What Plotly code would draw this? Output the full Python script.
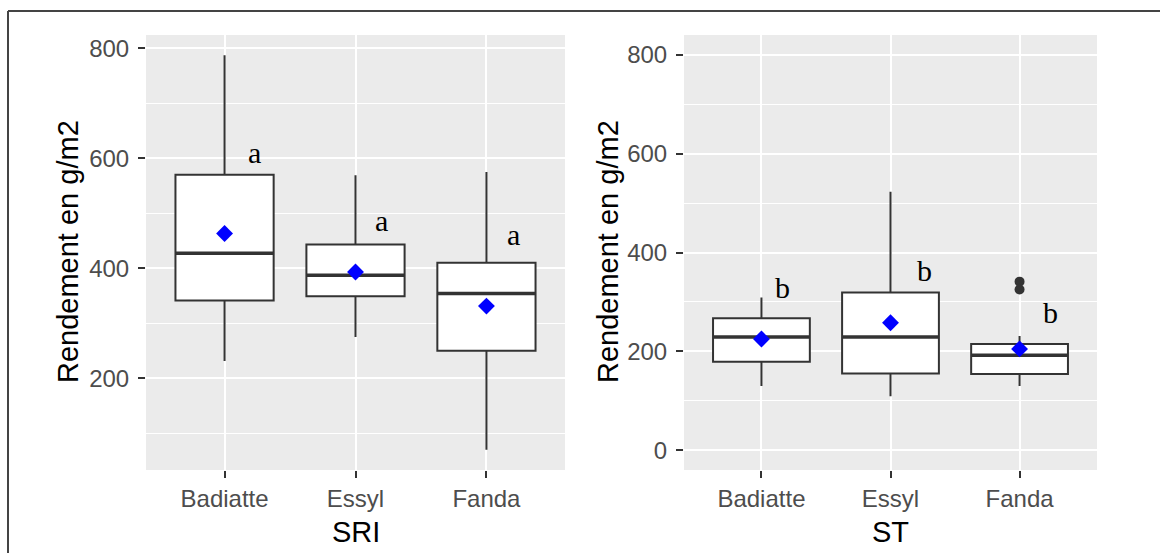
import plotly.graph_objects as go

# ---------------- data ----------------
categories = ["Badiatte", "Essyl", "Fanda"]

# SRI panel (g/m2)
sri_q1 = [341, 349, 250]
sri_median = [427, 387, 354]
sri_q3 = [570, 443, 410]
sri_lower = [231, 275, 70]
sri_upper = [787, 569, 575]
sri_mean = [463, 393, 331]
sri_letters = ["a", "a", "a"]
sri_letter_x = [1.23, 2.20, 3.21]
sri_letter_y = [605, 482, 456]

# ST panel (g/m2)
st_q1 = [179, 155, 154]
st_median = [229, 229, 192]
st_q3 = [267, 319, 215]
st_lower = [130, 109, 130]
st_upper = [309, 523, 231]
st_mean = [225, 258, 205]
st_outlier_cat = [3, 3]
st_outlier_val = [341, 325]
st_letters = ["b", "b", "b"]
st_letter_x = [1.16, 2.26, 3.24]
st_letter_y = [323, 358, 273]

panel_titles = ["SRI", "ST"]
y_title = "Rendement en g/m2"

# ---------------- style ----------------
W, H = 1160, 553
BOX_W = 0.75
DARK = "#333333"
SANS = "Liberation Sans, Arial, sans-serif"
SERIF = "Liberation Serif, Times New Roman, serif"

xpos = list(range(1, len(categories) + 1))

fig = go.Figure()


def add_panel(xa, ya, q1, med, q3, lo, up, mean):
    fig.add_trace(go.Box(
        x=xpos, q1=q1, median=med, q3=q3, lowerfence=lo, upperfence=up,
        width=BOX_W, fillcolor="white", line=dict(color=DARK, width=2),
        whiskerwidth=0, boxpoints=False, xaxis=xa, yaxis=ya,
        showlegend=False, hoverinfo="skip"))
    # thicker median line (ggplot style)
    mx, my = [], []
    for xi, m in zip(xpos, med):
        mx += [xi - BOX_W / 2, xi + BOX_W / 2, None]
        my += [m, m, None]
    fig.add_trace(go.Scatter(x=mx, y=my, mode="lines",
                             line=dict(color=DARK, width=3.5),
                             xaxis=xa, yaxis=ya, showlegend=False,
                             hoverinfo="skip"))
    fig.add_trace(go.Scatter(x=xpos, y=mean, mode="markers",
                             marker=dict(symbol="diamond", size=13,
                                         color="#0000FF"),
                             xaxis=xa, yaxis=ya, showlegend=False,
                             hoverinfo="skip"))


add_panel("x", "y", sri_q1, sri_median, sri_q3, sri_lower, sri_upper, sri_mean)
add_panel("x2", "y2", st_q1, st_median, st_q3, st_lower, st_upper, st_mean)

fig.add_trace(go.Scatter(x=st_outlier_cat, y=st_outlier_val, mode="markers",
                         marker=dict(symbol="circle", size=10, color=DARK),
                         xaxis="x2", yaxis="y2", showlegend=False,
                         hoverinfo="skip"))

# letters
for xs, ys, ts, xr, yr in [(sri_letter_x, sri_letter_y, sri_letters, "x", "y"),
                           (st_letter_x, st_letter_y, st_letters, "x2", "y2")]:
    for xv, yv, t in zip(xs, ys, ts):
        fig.add_annotation(x=xv, y=yv, xref=xr, yref=yr, text=t,
                           showarrow=False, xanchor="center",
                           yanchor="middle",
                           font=dict(family=SERIF, size=30, color="black"),
                           yshift=3)


# axis titles
def px_x(p):
    return p / W


def px_y(p):
    return 1 - p / H


for xp, title in [(356, panel_titles[0]), (890, panel_titles[1])]:
    fig.add_annotation(x=px_x(xp), y=px_y(532), xref="paper", yref="paper",
                       text=title, showarrow=False, xanchor="center",
                       yanchor="middle",
                       font=dict(family=SANS, size=29, color="black"))
for xp in [68, 608]:
    fig.add_annotation(x=px_x(xp), y=px_y(252), xref="paper", yref="paper",
                       text=y_title, showarrow=False, textangle=-90,
                       xanchor="center", yanchor="middle",
                       font=dict(family=SANS, size=29, color="black"))

# frame lines (document border)
fig.add_shape(type="line", xref="paper", yref="paper",
              x0=px_x(8), x1=px_x(8), y0=0, y1=px_y(11),
              line=dict(color="#444444", width=2))
fig.add_shape(type="line", xref="paper", yref="paper",
              x0=px_x(8), x1=1, y0=px_y(11), y1=px_y(11),
              line=dict(color="#444444", width=2))

common_x = dict(tickvals=xpos, ticktext=categories, range=[0.4, 3.6],
                showgrid=True, gridcolor="white", gridwidth=2,
                ticks="outside", ticklen=7, tickwidth=2, tickcolor=DARK,
                tickfont=dict(family=SANS, size=24, color="#4D4D4D"),
                zeroline=False, showline=False, fixedrange=True)
common_y = dict(dtick=200, tick0=0, showgrid=True, gridcolor="white",
                gridwidth=2, ticks="outside", ticklen=7, tickwidth=2,
                tickcolor=DARK, ticklabelstandoff=4,
                tickfont=dict(family=SANS, size=24, color="#4D4D4D"),
                minor=dict(dtick=100, tick0=0, showgrid=True,
                           gridcolor="white", gridwidth=1),
                zeroline=False, showline=False, fixedrange=True)

y_dom = [px_y(470), px_y(35)]
fig.update_layout(
    width=W, height=H,
    margin=dict(l=0, r=0, t=0, b=0),
    paper_bgcolor="white", plot_bgcolor="#EBEBEB",
    showlegend=False,
    xaxis=dict(domain=[px_x(146), px_x(565)], anchor="y", **common_x),
    yaxis=dict(domain=y_dom, anchor="x", range=[33, 824], **common_y),
    xaxis2=dict(domain=[px_x(684), px_x(1097)], anchor="y2", **common_x),
    yaxis2=dict(domain=y_dom, anchor="x2", range=[-40, 840], **common_y),
)

fig.write_html("out.html")
